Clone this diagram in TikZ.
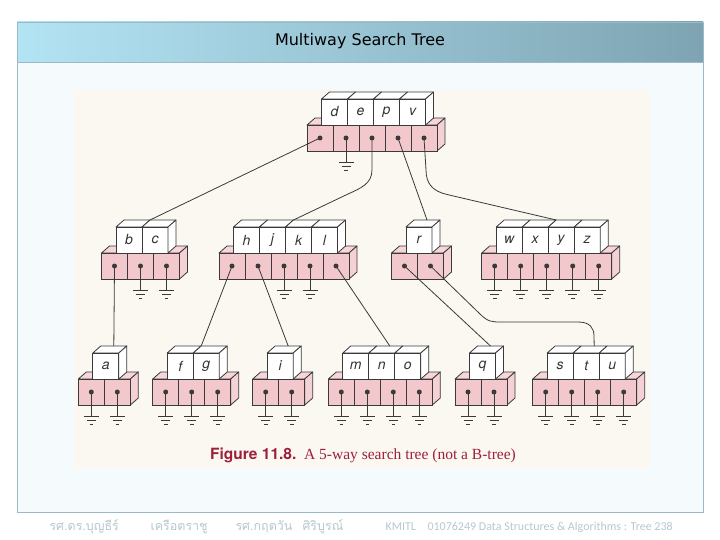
\documentclass[tikz,border=0pt]{standalone}
\usepackage{fontspec}
\setmainfont{Liberation Serif}
\newfontfamily\keyfont{TeX Gyre Heros}
\newfontfamily\titlefont{DejaVu Sans}
\newfontfamily\footfont{Carlito}
\newfontfamily\thaifont[Script=Thai]{Loma}
\definecolor{MWTStroke}{HTML}{3A3A3A}
\definecolor{MWTPtrFront}{HTML}{F3C8CC}
\definecolor{MWTPtrTop}{HTML}{F7D6D9}
\definecolor{MWTPtrSide}{HTML}{F5D0D4}
\definecolor{MWTKey}{HTML}{FFFFFF}
\definecolor{MWTKeyText}{HTML}{333333}
\definecolor{MWTPaper}{HTML}{FBF8F2}
\definecolor{MWTBody}{HTML}{F5FAFD}
\definecolor{MWTFrame}{HTML}{9DB9C5}
\definecolor{MWTHeadLeft}{HTML}{B3E4F4}
\definecolor{MWTHeadRight}{HTML}{7EA4B3}
\definecolor{MWTCaption}{HTML}{9E1F3A}
\definecolor{MWTFoot}{HTML}{B7C8D1}

% one node of the tree: name, x and y of the pointer row (top left), number of keys, keys
\newcommand{\mwnode}[5]{%
  \filldraw[ptrtop] (#2,#3) -- ++(8,-7) -- ++({26*(#4+1)},0) -- ++(-8,7) -- cycle;
  \filldraw[ptrside] ({#2+26*(#4+1)},#3) -- ++(8,-7) -- ++(0,26) -- ++(-8,7) -- cycle;
  \foreach \i in {0,...,#4}
    \node[ptrcell] (#1-p\i) at ({#2+26*\i},#3) {};
  \foreach \k [count=\i from 0] in {#5} {
    \filldraw[keyface] ({#2+14.5+26*\i},{#3-26}) -- ++(8,-7) -- ++(26,0) -- ++(-8,7) -- cycle;
    \node[keycell] (#1-k\i) at ({#2+14.5+26*\i},{#3-26}) {\k};
  }
  \filldraw[keyface] ({#2+14.5+26*#4},{#3-26}) -- ++(8,-7) -- ++(0,26) -- ++(-8,7) -- cycle;
  \coordinate (#1-top) at ({#2+14.5+13*#4+8},{#3-33});
}

\begin{document}
\begin{tikzpicture}[x=1pt,y=-1pt,
    wire/.style={draw=MWTStroke,line width=0.8pt},
    ptrtop/.style={draw=MWTStroke,fill=MWTPtrTop,line width=0.8pt,line join=round},
    ptrside/.style={draw=MWTStroke,fill=MWTPtrSide,line width=0.8pt,line join=round},
    keyface/.style={draw=MWTStroke,fill=MWTKey,line width=0.8pt,line join=round},
    ptrcell/.style={draw=MWTStroke,fill=MWTPtrFront,line width=0.8pt,anchor=north west,
      minimum size=26pt,inner sep=0pt,outer sep=0pt,
      path picture={\fill[MWTStroke] (path picture bounding box.center) circle (2.5pt);}},
    keycell/.style={draw=MWTStroke,fill=MWTKey,line width=0.8pt,anchor=north west,
      minimum size=26pt,inner sep=0pt,outer sep=0pt,text=MWTKeyText,
      font=\keyfont\itshape\fontsize{14}{14}\selectfont},
    foottext/.style={anchor=west,text=MWTFoot,font=\footfont\fontsize{12}{14}\selectfont},
    thaitext/.style={anchor=west,text=MWTFoot,font=\thaifont\fontsize{12.5}{14}\selectfont},
    nullground/.pic={\draw[wire] (0,0) -- (0,24) (-7.5,24) -- (7.5,24) (-4.5,28) -- (4.5,28) (-1.8,32) -- (1.8,32);}]
  \useasboundingbox (0,0) rectangle (720,540);
  \fill[white] (0,0) rectangle (720,540);
  \filldraw[fill=MWTBody,draw=MWTFrame,line width=0.8pt] (17,62) rectangle (703,512);
  \shade[left color=MWTHeadLeft,right color=MWTHeadRight] (17,22) rectangle (703,62);
  \draw[MWTFrame,line width=0.8pt] (17,22) rectangle (703,62);
  \node[font=\titlefont\fontsize{16}{18}\selectfont] (title) at (360,41) {Multiway Search Tree};
  \fill[MWTPaper] (74,90) rectangle (650,468);

  \mwnode{root}{307}{125}{4}{d,e,p,v}
  \mwnode{bc}{101.5}{253}{2}{b,c}
  \mwnode{hjkl}{219}{253}{4}{h,j,k,l}
  \mwnode{r}{391.5}{253}{1}{r}
  \mwnode{wxyz}{481.7}{253}{4}{w,x,y,z}
  \mwnode{a}{78.3}{379}{1}{a}
  \mwnode{fg}{152.7}{379}{2}{f,g}
  \mwnode{i}{252.7}{379}{1}{i}
  \mwnode{mno}{328.3}{379}{3}{m,n,o}
  \mwnode{q}{455}{379}{1}{q}
  \mwnode{stu}{532.7}{379}{3}{s,t,u}

  \foreach \p in {root-p1,bc-p1,bc-p2,hjkl-p2,hjkl-p3,wxyz-p0,wxyz-p1,wxyz-p2,wxyz-p3,wxyz-p4,
      a-p0,a-p1,fg-p0,fg-p1,fg-p2,i-p0,i-p1,mno-p0,mno-p1,mno-p2,mno-p3,q-p0,q-p1,
      stu-p0,stu-p1,stu-p2,stu-p3}
    \pic at (\p.center) {nullground};

  \draw[wire] (root-p0.center) -- (bc-top);
  \draw[wire] (root-p2.center) -- ++(0,32) .. controls +(0,14) and +(12,-5.5) .. ++(-24,24) -- (hjkl-top);
  \draw[wire] (root-p3.center) -- (r-top);
  \draw[wire] (root-p4.center) -- ++(2,32) .. controls +(0,14) and +(-14,-3.3) .. ++(21,24.5) -- (wxyz-top);
  \draw[wire] (bc-p0.center) -- (a-top);
  \draw[wire] (hjkl-p0.center) -- (fg-top);
  \draw[wire] (hjkl-p1.center) -- (i-top);
  \draw[wire] (hjkl-p4.center) -- (mno-top);
  \draw[wire] (r-p0.center) -- (q-top);
  \draw[wire] (r-p1.center) -- (480,314) .. controls (488,322) and (492,322) .. (502,322)
    -- (578,322) .. controls (590,322) and (594,328) .. (594,336) -- (stu-top);

  \node[text=MWTCaption,font=\fontsize{15.5}{17}\selectfont] (caption) at (363,455)
    {{\keyfont\bfseries Figure 11.8.}\ \ A 5-way search tree (not a B-tree)};

  \node[thaitext] (author1) at (46,527) {รศ.ดร.บุญธีร์};
  \node[thaitext] (author1b) at (147,527) {เครือตราชู};
  \node[thaitext] (author2) at (232,527) {รศ.กฤตวัน};
  \node[thaitext] (author2b) at (299,527) {ศิริบูรณ์};
  \node[foottext] (school) at (382,527) {KMITL};
  \node[foottext] (course) at (424,527) {01076249 Data Structures \& Algorithms : Tree 238};
\end{tikzpicture}
\end{document}
